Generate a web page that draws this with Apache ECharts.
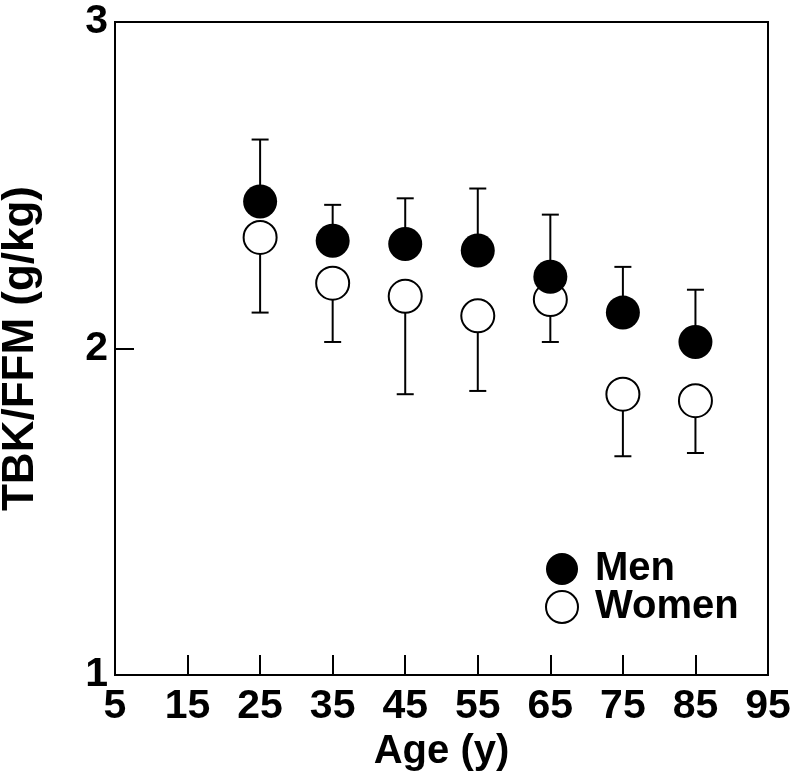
<!DOCTYPE html>
<html>
<head>
<meta charset="utf-8">
<script src="https://cdn.jsdelivr.net/npm/echarts@6/dist/echarts.min.js"></script>
<style>html,body{margin:0;padding:0;background:#fff;}#c{width:797px;height:782px;}</style>
</head>
<body>
<div id="c"></div>
<script>
var ages = [25, 35, 45, 55, 65, 75, 85];
var menMean = [2.45, 2.33, 2.32, 2.30, 2.22, 2.11, 2.02];
var menUpper = [2.64, 2.44, 2.46, 2.49, 2.41, 2.25, 2.18];
var womenMean = [2.34, 2.20, 2.16, 2.10, 2.15, 1.86, 1.84];
var womenLower = [2.11, 2.02, 1.86, 1.87, 2.02, 1.67, 1.68];
var xTicks = [5, 15, 25, 35, 45, 55, 65, 75, 85, 95];
var yTicks = [1, 2, 3];

var FONT = '"Liberation Sans", Arial, sans-serif';

function errData(means, ends) {
  return ages.map(function (a, i) { return [a, means[i], ends[i]]; });
}
function errRender(params, api) {
  var x = api.value(0);
  var p1 = api.coord([x, api.value(1)]);
  var p2 = api.coord([x, api.value(2)]);
  var half = 8.5;
  var st = { stroke: '#000', lineWidth: 2 };
  return {
    type: 'group',
    children: [
      { type: 'line', shape: { x1: p1[0], y1: p1[1], x2: p2[0], y2: p2[1] }, style: st },
      { type: 'line', shape: { x1: p2[0] - half, y1: p2[1], x2: p2[0] + half, y2: p2[1] }, style: st }
    ]
  };
}

var chart = echarts.init(document.getElementById('c'));
chart.setOption({
  animation: false,
  backgroundColor: '#fff',
  grid: { left: 115, right: 29, top: 22, bottom: 107, containLabel: false, outerBoundsMode: 'none',
    show: true, borderColor: '#000', borderWidth: 2, backgroundColor: 'transparent' },
  legend: {
    orient: 'vertical',
    left: 540, top: 544,
    itemWidth: 32, itemHeight: 32, itemGap: -2,
    data: ['Men', 'Women'],
    textStyle: { fontFamily: FONT, fontSize: 40, fontWeight: 'bold', color: '#000', padding: [0, 0, 0, 12] }
  },
  xAxis: {
    type: 'value', min: 5, max: 95, interval: 10,
    name: 'Age (y)', nameLocation: 'middle', nameGap: 52,
    nameTextStyle: { fontFamily: FONT, fontSize: 40, fontWeight: 'bold', color: '#000' },
    axisLine: { lineStyle: { color: '#000', width: 2 } },
    axisTick: { inside: true, length: 20, lineStyle: { color: '#000', width: 2 } },
    axisLabel: { fontFamily: FONT, fontSize: 41, fontWeight: 'bold', color: '#000', margin: 11,
      formatter: function (v) { return xTicks.indexOf(v) >= 0 ? String(v) : ''; } },
    splitLine: { show: false }
  },
  yAxis: {
    type: 'value', min: 1, max: 3, interval: 1,
    name: 'TBK/FFM (g/kg)', nameLocation: 'middle', nameGap: 72,
    nameTextStyle: { fontFamily: FONT, fontSize: 44, fontWeight: 'bold', color: '#000' },
    axisLine: { lineStyle: { color: '#000', width: 2 } },
    axisTick: { inside: true, length: 19, lineStyle: { color: '#000', width: 2 } },
    axisLabel: { fontFamily: FONT, fontSize: 41, fontWeight: 'bold', color: '#000', margin: 7,
      formatter: function (v) { return yTicks.indexOf(v) >= 0 ? String(v) : ''; } },
    splitLine: { show: false }
  },
  series: [
    { type: 'custom', name: 'menErr', renderItem: errRender, data: errData(menMean, menUpper), z: 1, silent: true },
    { type: 'custom', name: 'womenErr', renderItem: errRender, data: errData(womenMean, womenLower), z: 1, silent: true },
    { type: 'scatter', name: 'Women', symbol: 'circle', symbolSize: 33, z: 3,
      itemStyle: { color: '#fff', borderColor: '#000', borderWidth: 2, opacity: 1 },
      data: ages.map(function (a, i) { return [a, womenMean[i]]; }) },
    { type: 'scatter', name: 'Men', symbol: 'circle', symbolSize: 34, z: 4,
      itemStyle: { color: '#000', borderColor: '#000', borderWidth: 0, opacity: 1 },
      data: ages.map(function (a, i) { return [a, menMean[i]]; }) }
  ]
});
</script>
</body>
</html>
